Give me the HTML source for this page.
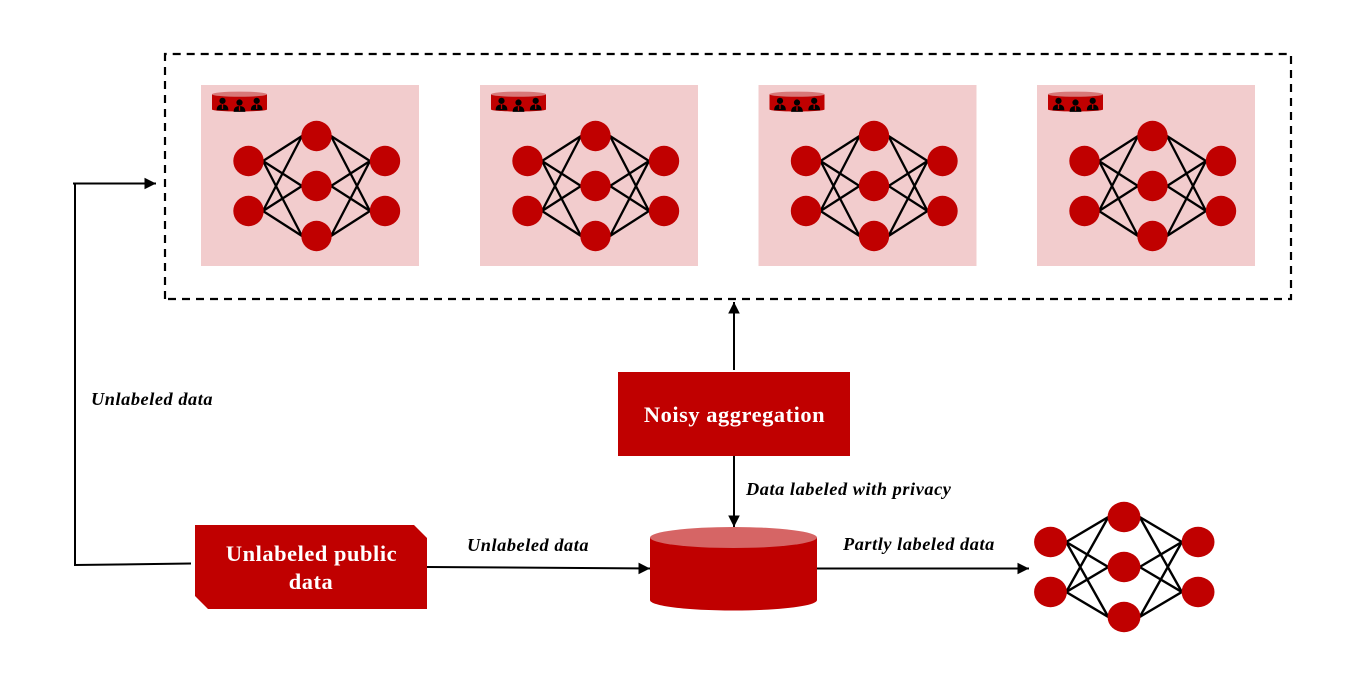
<!DOCTYPE html>
<html><head><meta charset="utf-8"><style>
html,body{margin:0;padding:0;background:#fff;width:1366px;height:684px;overflow:hidden}
svg{display:block}
text{font-family:"Liberation Serif",serif;font-weight:bold}
.l{font-size:18.3px;letter-spacing:.56px;font-style:italic;fill:#000}
.w{font-size:22.4px;letter-spacing:.55px;fill:#fff;text-anchor:middle}
</style></head><body>
<svg width="1366" height="684" viewBox="0 0 1366 684" xmlns="http://www.w3.org/2000/svg">
<defs>
<marker id="a" markerUnits="userSpaceOnUse" markerWidth="13" markerHeight="13" refX="11.500" refY="6.500" orient="auto"><path d="M0 0.700L11.500 6.500L0 12.300Z" fill="#000"/></marker>
<g id="person"><circle cx="0" cy="-3.200" r="2.400" fill="#000"/><path d="M-4.500 4C-4.500 0.500-2.500 -0.400 0 -0.400C2.500 -0.400 4.500 0.500 4.500 4Z" fill="#000"/><path d="M-0.500 -0.400h1v3.500h-1z" fill="#c00000"/></g>
<g id="net">
<g stroke="#000" stroke-width="2.300" fill="none">
<path d="M263 161L302 136M263 161L302 186M263 161L302 236M263 211L302 136M263 211L302 186M263 211L302 236"/>
<path d="M331 136L370 161M331 136L370 211M331 186L370 161M331 186L370 211M331 236L370 161M331 236L370 211"/>
</g>
<g fill="#c00000">
<circle cx="248.500" cy="161" r="15.200"/><circle cx="248.500" cy="211" r="15.200"/>
<circle cx="316.500" cy="136" r="15.200"/><circle cx="316.500" cy="186" r="15.200"/><circle cx="316.500" cy="236" r="15.200"/>
<circle cx="385" cy="161" r="15.200"/><circle cx="385" cy="211" r="15.200"/>
</g>
</g>
<g id="panel">
<rect x="201" y="85" width="218" height="181" fill="#f2cccd"/>
<path d="M212 94.500V109.500C212 110.500 224 111.500 239.500 111.500C255 111.500 267 110.500 267 109.500V94.500Z" fill="#c00000"/>
<ellipse cx="239.500" cy="94.200" rx="27.500" ry="2.600" fill="#d87878"/>
<use href="#person" transform="translate(222.500 105) scale(1.3)"/><use href="#person" transform="translate(239.500 106.700) scale(1.3)"/><use href="#person" transform="translate(256.700 105) scale(1.3)"/>
<use href="#net"/>
</g>
</defs>

<g fill="none" stroke="#000" stroke-width="2.200">
<path d="M164 54H1292" stroke-dasharray="8 6" stroke-dashoffset="5.300"/>
<path d="M165 53V300" stroke-dasharray="8 6"/>
<path d="M1291 54V300" stroke-dasharray="8 6" stroke-dashoffset="12"/>
<path d="M165 299H1292" stroke-dasharray="8 6" stroke-dashoffset="11"/>
</g>
<use href="#panel"/>
<use href="#panel" x="279"/>
<use href="#panel" x="557.500"/>
<use href="#panel" x="836"/>

<path d="M191 563.500L75 565V183.500" fill="none" stroke="#000" stroke-width="2"/>
<path d="M73 183.500H156" fill="none" stroke="#000" stroke-width="2" marker-end="url(#a)"/>
<path d="M734 370V302" fill="none" stroke="#000" stroke-width="2" marker-end="url(#a)"/>
<path d="M734 456V527" fill="none" stroke="#000" stroke-width="2" marker-end="url(#a)"/>
<path d="M427 567L650 568.500" fill="none" stroke="#000" stroke-width="2" marker-end="url(#a)"/>
<path d="M817 568.500H1029" fill="none" stroke="#000" stroke-width="2" marker-end="url(#a)"/>

<rect x="618" y="372" width="232" height="84" fill="#c00000"/>
<text class="w" x="734.500" y="422">Noisy aggregation</text>

<path d="M195 525H414L427 538V609H208L195 596Z" fill="#c00000"/>
<text class="w" x="311.500" y="561">Unlabeled public</text>
<text class="w" x="311" y="589">data</text>

<path d="M650 537.500V600C650 606 687 610.500 733.500 610.500C780 610.500 817 606 817 600V537.500Z" fill="#c00000"/>
<ellipse cx="733.500" cy="537.500" rx="83.500" ry="10.500" fill="#d66565"/>

<g transform="translate(1050.500 0) scale(1.0811 1) translate(-248.500 381)"><use href="#net"/></g>

<text class="l" x="91" y="405">Unlabeled data</text>
<text class="l" x="467" y="551">Unlabeled data</text>
<text class="l" x="746" y="495">Data labeled with privacy</text>
<text class="l" x="843" y="550">Partly labeled data</text>
</svg>
</body></html>
